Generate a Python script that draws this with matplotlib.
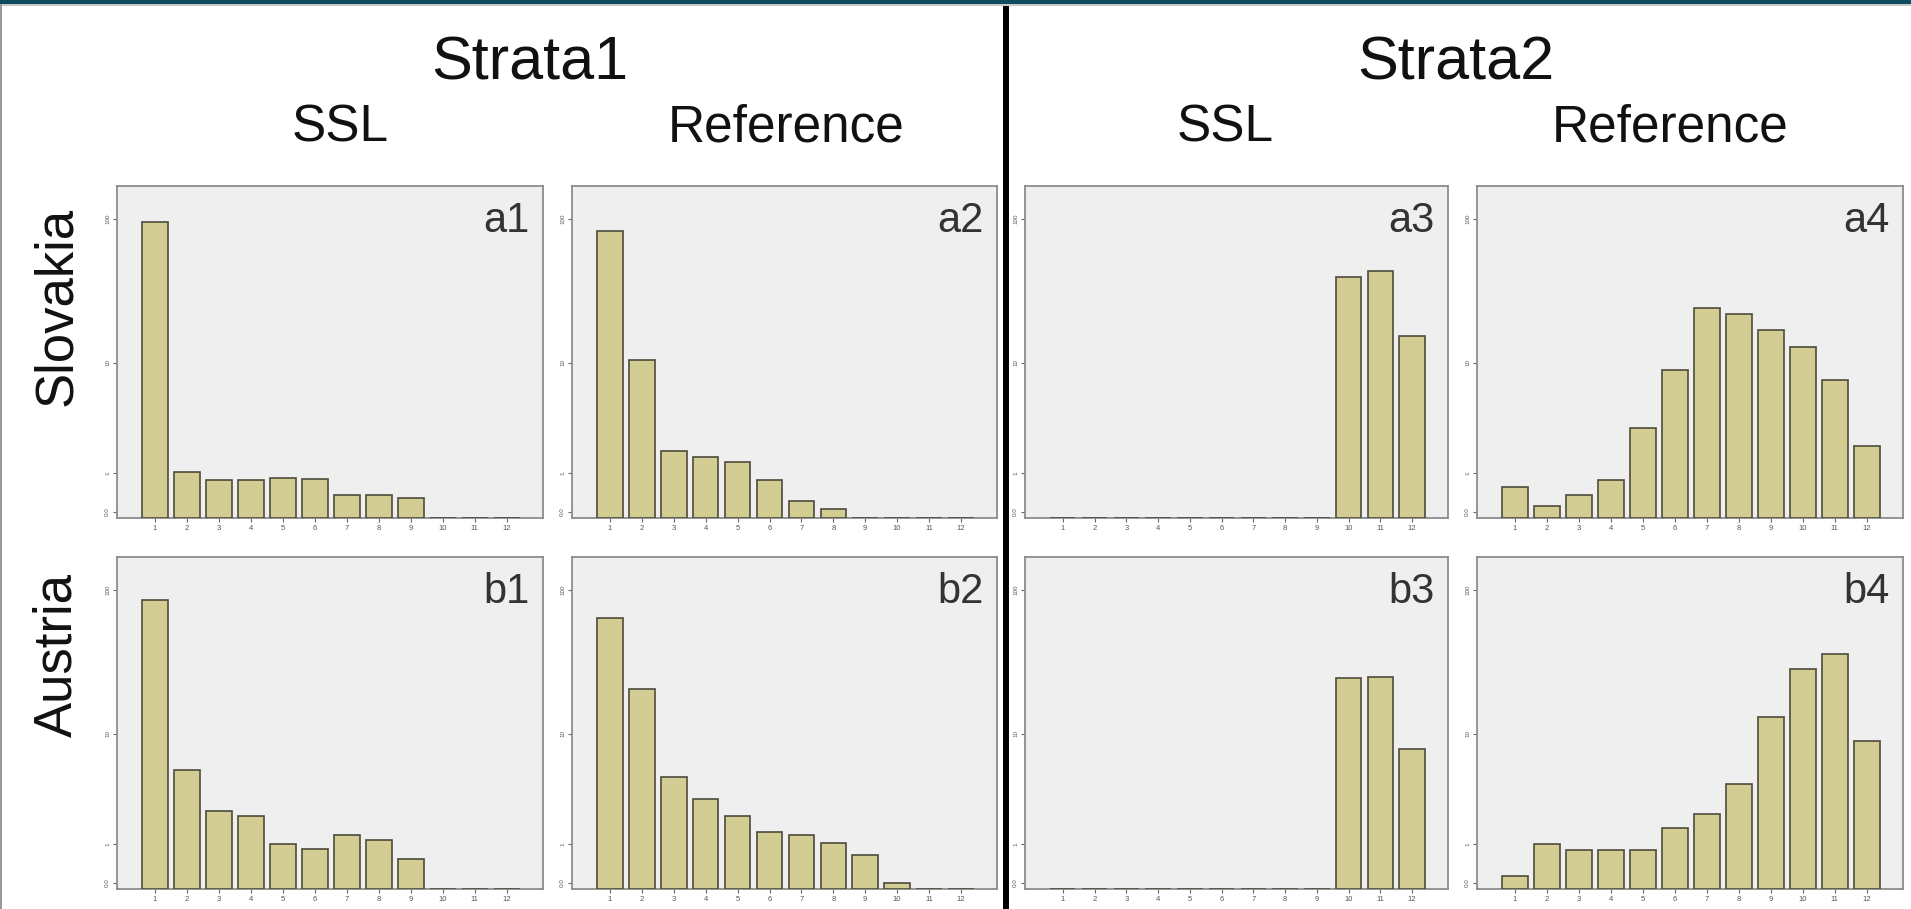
import numpy as np
import matplotlib
matplotlib.use("Agg")
import matplotlib.pyplot as plt
from matplotlib.patches import Rectangle
from matplotlib.lines import Line2D

# Month classes on the x axis
months = list(range(1, 13))
month_labels = [str(m) for m in months]

# Percentages per class (Slovakia = row a, Austria = row b)
a1_ssl_s1 = [95.0, 1.05, 0.81, 0.81, 0.86, 0.82, 0.42, 0.42, 0.36, 0, 0, 0]
a2_ref_s1 = [83.5, 10.5, 1.81, 1.57, 1.36, 0.81, 0.31, 0.155, 0, 0, 0, 0]
a3_ssl_s2 = [0, 0, 0, 0, 0, 0, 0, 0, 0, 40.3, 44.4, 15.7]
a4_ref_s2 = [0.61, 0.21, 0.42, 0.81, 3.0, 8.8, 24.6, 22.2, 17.3, 13.1, 7.4, 2.04]
b1_ssl_s1 = [85.1, 5.33, 2.33, 2.08, 1.0, 0.85, 1.30, 1.14, 0.59, 0, 0, 0]
b2_ref_s1 = [65.0, 20.8, 4.6, 3.0, 2.08, 1.42, 1.29, 1.04, 0.69, 0.095, 0, 0]
b3_ssl_s2 = [0, 0, 0, 0, 0, 0, 0, 0, 0, 24.9, 25.4, 7.7]
b4_ref_s2 = [0.226, 1.0, 0.82, 0.82, 0.82, 1.55, 2.2, 4.03, 13.2, 29.1, 36.7, 8.9]

panel_names = [["a1", "a2", "a3", "a4"], ["b1", "b2", "b3", "b4"]]
panel_data = [[a1_ssl_s1, a2_ref_s1, a3_ssl_s2, a4_ref_s2],
              [b1_ssl_s1, b2_ref_s1, b3_ssl_s2, b4_ref_s2]]
row_labels = ["Slovakia", "Austria"]
strata_labels = ["Strata1", "Strata2"]
source_labels = ["SSL", "Reference", "SSL", "Reference"]

y_ticks = [0.1, 1, 10, 100]
y_tick_labels = ["0.0", "1", "10", "100"]

W, H = 1911, 909
fig = plt.figure(figsize=(W / 100, H / 100), dpi=100)
fig.patch.set_facecolor("white")

FONT = ["Liberation Sans", "DejaVu Sans"]


def fx(px):
    return px / W


def fy(py):
    return 1 - py / H


# log(1 + x) axis so that zero-height classes sit on the baseline
def fwd(v):
    v = np.asarray(v, dtype=float)
    return np.log10(1 + np.maximum(v, 0))


def inv(u):
    return 10 ** np.asarray(u, dtype=float) - 1


cols = [(117, 543), (572, 997), (1025, 1448), (1477, 1903)]
rows = [(186, 518), (557, 889)]

bar_face = "#d3cd94"
bar_edge = "#4d4b3c"
panel_bg = "#efefef"
frame = "#8c8c8c"

for r, (top, bot) in enumerate(rows):
    for c, (left, right) in enumerate(cols):
        ax = fig.add_axes([fx(left), fy(bot), fx(right - left), (bot - top) / H])
        ax.set_facecolor(panel_bg)
        ax.set_yscale("function", functions=(fwd, inv))
        ax.bar(months, panel_data[r][c], width=0.8, color=bar_face,
               edgecolor=bar_edge, linewidth=1.2, zorder=3)
        ax.set_xlim(-0.19, 13.13)
        ax.set_ylim(0, 167.5)
        ax.set_yticks(y_ticks)
        ax.set_yticklabels(y_tick_labels, rotation=90, va="center",
                           fontsize=4.5, color="#555555", family=FONT)
        ax.set_xticks(months)
        ax.set_xticklabels(month_labels, fontsize=5.5, color="#555555",
                           family=FONT)
        ax.yaxis.set_minor_locator(matplotlib.ticker.NullLocator())
        ax.tick_params(axis="both", length=3, width=0.8, color="#666666",
                       pad=2)
        for s in ax.spines.values():
            s.set_color(frame)
            s.set_linewidth(1.3)
        ax.text(0.968, 0.955, panel_names[r][c], transform=ax.transAxes,
                ha="right", va="top", fontsize=30, color="#333333",
                family=FONT)

# Column headers
for i, cx in enumerate([530, 1456]):
    fig.text(fx(cx), fy(80), strata_labels[i], ha="center", va="baseline",
             fontsize=44, color="#111111", family=FONT)
for lbl, cx in zip(source_labels, [340, 786, 1225, 1670]):
    fig.text(fx(cx), fy(141), lbl, ha="center", va="baseline",
             fontsize=37, color="#111111", family=FONT)

# Row headers
for lbl, cy in zip(row_labels, [306, 655]):
    fig.text(fx(57), fy(cy), lbl, ha="center", va="center", rotation=90,
             fontsize=38, color="#111111", family=FONT)

# Frame decorations: top band, left rule, divider between strata
fig.patches.append(Rectangle((0, fy(4)), 1, 4 / H, transform=fig.transFigure,
                             facecolor="#0e4a60", edgecolor="none"))
fig.patches.append(Rectangle((0, fy(6)), 1, 2 / H, transform=fig.transFigure,
                             facecolor="#c8c8c8", edgecolor="none"))
fig.patches.append(Rectangle((0, 0), 2 / W, fy(4), transform=fig.transFigure,
                             facecolor="#9a9a9a", edgecolor="none"))
fig.lines.append(Line2D([fx(1006), fx(1006)], [0, fy(9)],
                        transform=fig.transFigure, color="black",
                        linewidth=4.3))

fig.savefig("out.png", dpi=100, facecolor="white")
